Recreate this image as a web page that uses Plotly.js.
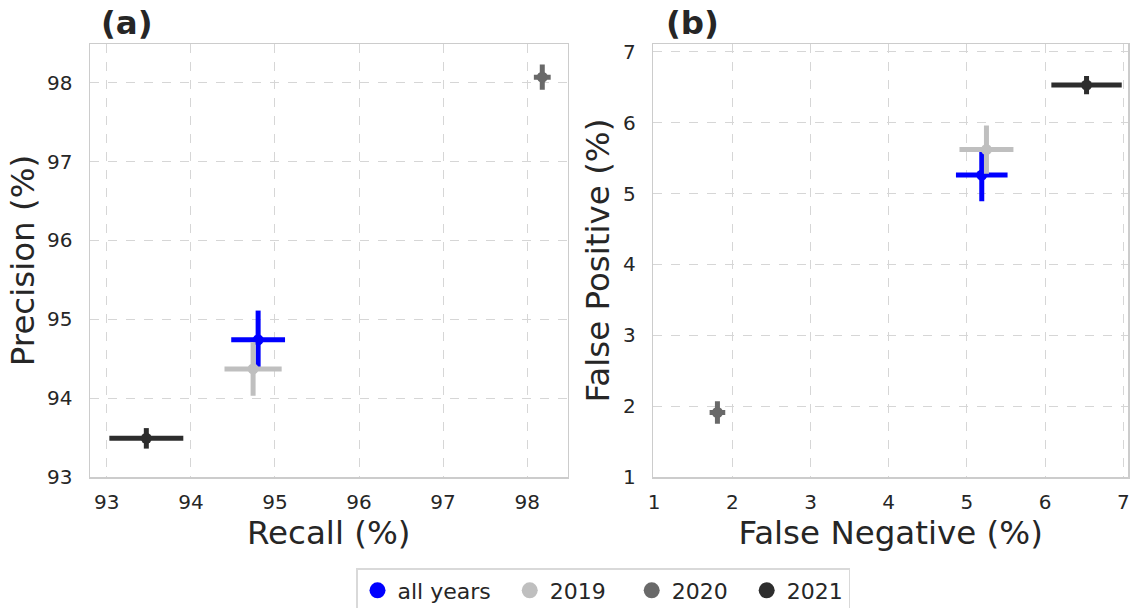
<!DOCTYPE html>
<html>
<head>
<meta charset="utf-8">
<script src="https://cdn.plot.ly/plotly-3.0.1.min.js"></script>
<style>html,body{margin:0;padding:0;background:#fff;}#chart{width:1130px;height:608px;}</style>
</head>
<body>
<div id="chart"></div>
<script>
// ---- data ----
const groups = ["all years", "2019", "2020", "2021"];
const colors = ["#0000ff", "#bfbfbf", "#696969", "#2d2d2d"];
// panel (a)
const recall      = [94.80, 94.74, 98.18, 93.47];
const recallErr   = [0.32, 0.34, 0.10, 0.44];
const precision   = [94.74, 94.37, 98.07, 93.49];
const precisionErr= [0.37, 0.34, 0.16, 0.13];
// panel (b)
const falseNeg    = [5.19, 5.25, 1.81, 6.53];
const falseNegErr = [0.33, 0.345, 0.10, 0.45];
const falsePos    = [5.26, 5.62, 1.91, 6.53];
const falsePosErr = [0.37, 0.34, 0.16, 0.13];
const ticksA_x = [93, 94, 95, 96, 97, 98];
const ticksA_y = [93, 94, 95, 96, 97, 98];
const ticksB = [1, 2, 3, 4, 5, 6, 7];

const FONT = "DejaVu Sans, sans-serif";
const TXT = "#262626";
const pads = ["\u00a0\u00a0", "\u00a0\u00a0\u00a0", "\u00a0\u00a0", ""];
const traces = [];
groups.forEach((g, i) => {
  traces.push({
    type: "scatter", mode: "markers", x: [recall[i]], y: [precision[i]],
    xaxis: "x", yaxis: "y", showlegend: false, name: g,
    marker: {color: colors[i], size: 11},
    error_x: {type: "data", array: [recallErr[i]], color: colors[i], thickness: 5, width: 0},
    error_y: {type: "data", array: [precisionErr[i]], color: colors[i], thickness: 5, width: 0}
  });
  traces.push({
    type: "scatter", mode: "markers", x: [falseNeg[i]], y: [falsePos[i]],
    xaxis: "x2", yaxis: "y2", showlegend: false, name: g,
    marker: {color: colors[i], size: 11},
    error_x: {type: "data", array: [falseNegErr[i]], color: colors[i], thickness: 5, width: 0},
    error_y: {type: "data", array: [falsePosErr[i]], color: colors[i], thickness: 5, width: 0}
  });
});
groups.forEach((g, i) => {
  traces.push({
    type: "scatter", mode: "markers", x: [null], y: [null], xaxis: "x", yaxis: "y",
    name: g + pads[i], showlegend: true, marker: {color: colors[i], size: 16}
  });
});

const axBase = {
  showline: true, mirror: true, linecolor: "#cccccc", linewidth: 1.5,
  showgrid: true, gridcolor: "#d6d6d6", griddash: "dash", gridwidth: 1,
  zeroline: false, ticks: "", tickfont: {family: FONT, size: 20, color: TXT},
  automargin: false, tickmode: "array", fixedrange: true
};
const W = 1130, H = 608;
const TF = {family: FONT, size: 32.5, color: TXT};
const layout = {
  width: W, height: H, margin: {l: 0, r: 0, t: 0, b: 0, autoexpand: false},
  paper_bgcolor: "#ffffff", plot_bgcolor: "#ffffff",
  font: {family: FONT, color: TXT},
  xaxis: Object.assign({}, axBase, {
    domain: [90 / W, 567.5 / W], range: [92.8, 98.48], tickvals: ticksA_x,
    ticklabelstandoff: 6, anchor: "y",
    title: {text: "Recall (%)", font: TF, standoff: 8}
  }),
  yaxis: Object.assign({}, axBase, {
    domain: [1 - 477 / H, 1 - 44 / H], range: [93, 98.49], tickvals: ticksA_y,
    ticklabelstandoff: 12, anchor: "x",
    title: {text: "Precision (%)", font: TF, standoff: 2}
  }),
  xaxis2: Object.assign({}, axBase, {
    domain: [653.3 / W, 1128 / W], range: [0.99, 7.06], tickvals: ticksB,
    ticklabelstandoff: 6, anchor: "y2",
    title: {text: "False Negative (%)", font: TF, standoff: 8}
  }),
  yaxis2: Object.assign({}, axBase, {
    domain: [1 - 477 / H, 1 - 44 / H], range: [1.0, 7.11], tickvals: ticksB,
    ticklabelstandoff: 12, anchor: "x2",
    title: {text: "False Positive (%)", font: TF, standoff: 3}
  }),
  annotations: [
    {text: "<b>(a)</b>", xref: "paper", yref: "paper", x: 99 / W, y: 1 - 23 / H,
     xanchor: "left", yanchor: "middle", showarrow: false, font: TF},
    {text: "<b>(b)</b>", xref: "paper", yref: "paper", x: 664 / W, y: 1 - 23 / H,
     xanchor: "left", yanchor: "middle", showarrow: false, font: TF}
  ],
  legend: {
    orientation: "h", x: 603 / W, xanchor: "center", y: 1 - 568 / H, yanchor: "top",
    bgcolor: "#ffffff", bordercolor: "#d9d9d9", borderwidth: 1.5,
    font: {family: FONT, size: 22, color: TXT}, itemsizing: "trace"
  },
  showlegend: true
};
Plotly.newPlot("chart", traces, layout, {displayModeBar: false, staticPlot: true});
</script>
</body>
</html>
